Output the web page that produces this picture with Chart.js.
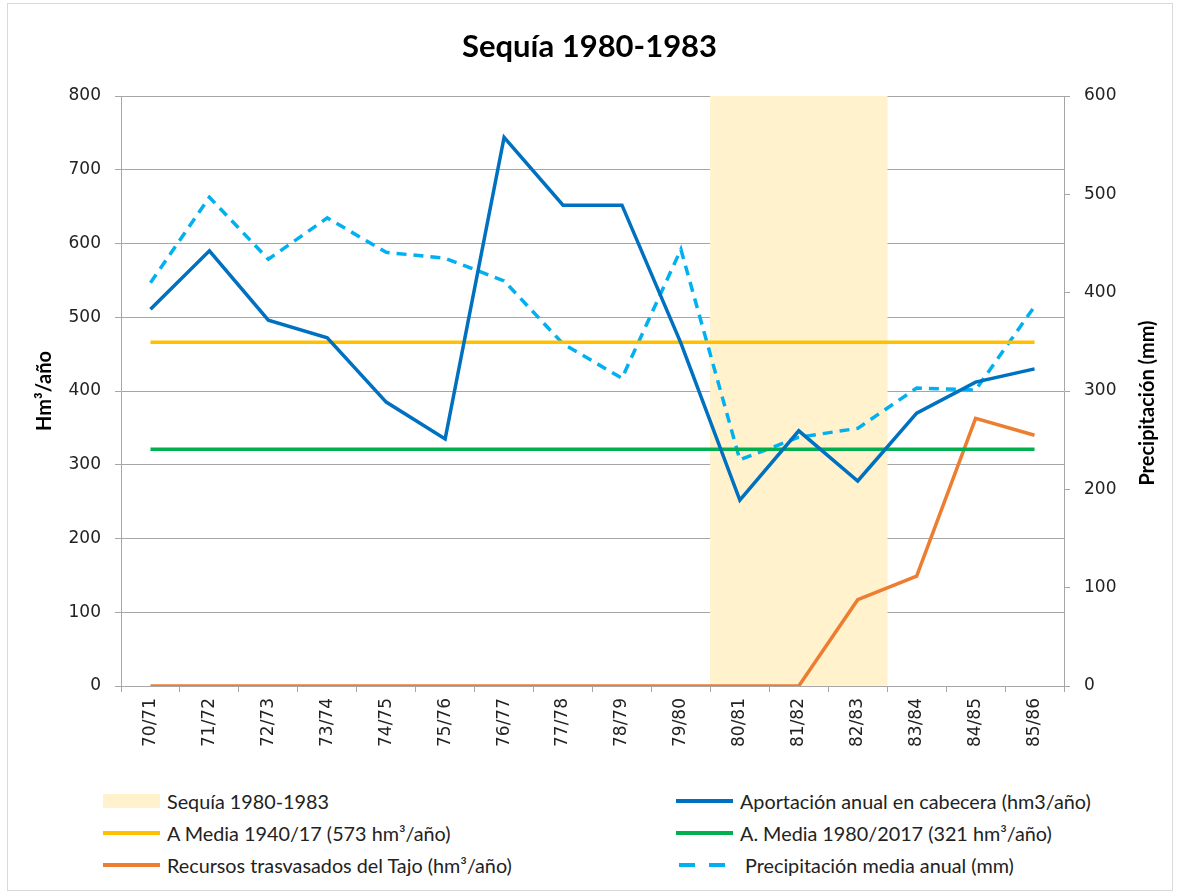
<!DOCTYPE html>
<html>
<head>
<meta charset="utf-8">
<script src="https://cdn.jsdelivr.net/npm/chart.js@4"></script>
<style>
  body { margin: 0; background: #fff; }
  #frame { position: absolute; left: 7px; top: 3px; width: 1164px; height: 886px; border: 1px solid #d9d9d9; }
  #wrap { position: absolute; left: 0; top: 0; width: 1179px; height: 780px; }
  #legend { position: absolute; left: 0; top: 786px; width: 1179px; font-family: Lato, sans-serif; font-size: 19.8px; color: #222; }
  .item { position: absolute; height: 30px; display: flex; align-items: center; }
  .sw { width: 57px; margin-right: 7px; }
</style>
</head>
<body>
<div id="frame"></div>
<div id="wrap"><canvas id="chart" width="1179" height="780"></canvas></div>
<div id="legend"></div>
<script>
const labels = ["70/71", "71/72", "72/73", "73/74", "74/75", "75/76", "76/77", "77/78",
                "78/79", "79/80", "80/81", "81/82", "82/83", "83/84", "84/85", "85/86"];

// Hm3/año (left axis)
const aportacion = [511, 590, 496, 472, 385, 335, 744, 652, 652, 465, 252, 346, 278, 370, 412, 430];
const recursosTajo = [0, 0, 0, 0, 0, 0, 0, 0, 0, 0, 0, 0, 117, 149, 363, 340];
const mediaLarga = labels.map(() => 466);
const mediaCorta = labels.map(() => 321);

// mm (right axis)
const precipitacion = [410, 497, 434, 476, 441, 435, 412, 348, 313, 444, 230, 253, 262, 303, 301, 386];

// drought period band
const sequia = [null, null, null, null, null, null, null, null, null, null, 800, 800, 800, null, null, null];

const rightTitle = {
    id: "rightTitle",
    afterDraw(chart) {
        const c = chart.ctx;
        c.save();
        c.translate(1148, 403);
        c.rotate(-Math.PI / 2);
        c.font = "bold 20px Lato";
        c.fillStyle = "#000";
        c.textAlign = "center";
        c.textBaseline = "middle";
        c.fillText("Precipitación (mm)", 0, 0);
        c.restore();
    }
};

const lineStyle = { borderWidth: 3.5, pointRadius: 0, tension: 0, fill: false, order: 1 };

const chart = new Chart(document.getElementById("chart"), {
    type: "line",
    data: {
        labels: labels,
        datasets: [
            { type: "bar", label: "Sequía 1980-1983", data: sequia, backgroundColor: "#FFF2CC",
              barPercentage: 1, categoryPercentage: 1, yAxisID: "y", order: 10 },
            { label: "Aportación anual en cabecera (hm3/año)", data: aportacion, borderColor: "#0070C0", yAxisID: "y", ...lineStyle },
            { label: "A Media 1940/17 (573 hm³/año)", data: mediaLarga, borderColor: "#FFC000", yAxisID: "y", ...lineStyle },
            { label: "A. Media 1980/2017 (321 hm³/año)", data: mediaCorta, borderColor: "#00B050", yAxisID: "y", ...lineStyle },
            { label: "Recursos trasvasados del Tajo (hm³/año)", data: recursosTajo, borderColor: "#ED7D31", yAxisID: "y", ...lineStyle },
            { label: "Precipitación media anual (mm)", data: precipitacion, borderColor: "#00B0F0", borderDash: [10, 7],
              yAxisID: "y1", ...lineStyle }
        ]
    },
    options: {
        responsive: false,
        animation: false,
        layout: { padding: 0 },
        plugins: {
            legend: { display: false },
            tooltip: { enabled: false },
            title: {
                display: true,
                text: "Sequía 1980-1983",
                font: { family: "Lato", size: 31, weight: "bold" },
                color: "#000",
                padding: { top: 28, bottom: 30.8 }
            }
        },
        scales: {
            x: {
                offset: true,
                grid: { drawOnChartArea: false, offset: true, tickLength: 6, color: "#a6a6a6" },
                border: { color: "#a6a6a6" },
                ticks: { minRotation: 90, maxRotation: 90, padding: 6, color: "#222",
                         font: { family: "DejaVu Sans", size: 17 } },
                afterFit(s) { s.height = 94; }
            },
            y: {
                position: "left",
                min: 0, max: 800,
                ticks: { stepSize: 100, padding: 14, color: "#222", font: { family: "DejaVu Sans", size: 17 } },
                grid: { color: "#a6a6a6", tickLength: 6 },
                border: { color: "#a6a6a6" },
                title: { display: true, text: "Hm³/año", color: "#000", padding: { top: 33, bottom: 0 },
                         font: { family: "Lato", size: 20, weight: "bold" } },
                afterFit(s) { s.width = 121; }
            },
            y1: {
                position: "right",
                min: 0, max: 600,
                ticks: { stepSize: 100, padding: 14, color: "#222", font: { family: "DejaVu Sans", size: 17 } },
                grid: { drawOnChartArea: false, color: "#a6a6a6", tickLength: 6 },
                border: { color: "#a6a6a6" },
                afterFit(s) { s.width = 115; }
            }
        }
    },
    plugins: [rightTitle]
});

// two-column legend below the chart
const legendPos = [
    [0, 103, 0], [1, 676, 0],
    [2, 103, 32], [3, 676, 32],
    [4, 103, 64], [5, 676, 64]
];
const legendEl = document.getElementById("legend");
legendPos.forEach(([i, left, top]) => {
    const ds = chart.data.datasets[i];
    const item = document.createElement("div");
    item.className = "item";
    item.style.left = left + "px";
    item.style.top = top + "px";
    const sw = document.createElement("div");
    sw.className = "sw";
    if (ds.type === "bar") {
        sw.style.height = "14px";
        sw.style.background = ds.backgroundColor;
    } else if (ds.borderDash) {
        sw.style.height = "4px";
        sw.style.width = "46px";
        sw.style.marginRight = "20px";
        sw.style.marginLeft = "3px";
        sw.style.background = "repeating-linear-gradient(90deg, " + ds.borderColor + " 0 16px, transparent 16px 30px)";
    } else {
        sw.style.height = "4px";
        sw.style.background = ds.borderColor;
    }
    const txt = document.createElement("span");
    txt.textContent = ds.label;
    item.appendChild(sw);
    item.appendChild(txt);
    legendEl.appendChild(item);
});
</script>
</body>
</html>
